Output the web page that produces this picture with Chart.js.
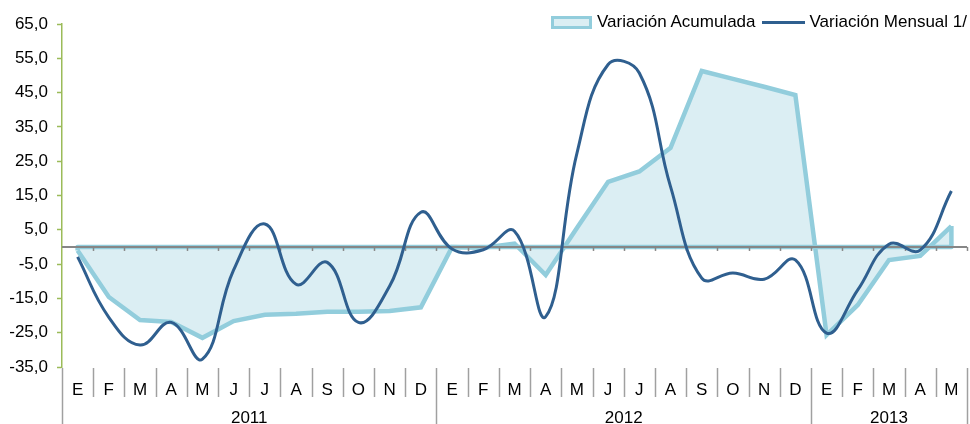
<!DOCTYPE html>
<html>
<head>
<meta charset="utf-8">
<script src="https://cdn.jsdelivr.net/npm/chart.js@4/dist/chart.umd.min.js"></script>
<style>
  html, body { margin: 0; padding: 0; background: #fff; }
  #wrap { position: relative; width: 970px; height: 424px; }
  #legend { position: absolute; top: 12px; right: 3px; display: flex; align-items: center;
            font-family: "Liberation Sans", Arial, sans-serif; font-size: 17px; color: #000; }
  .item { display: flex; align-items: center; margin-left: 6px; }
  .box { width: 35px; height: 7px; border: 3px solid #92cddc; background: #dbeef3; margin-right: 5px; }
  .ln { width: 43px; height: 3px; background: #2f5f8f; margin-right: 5px; }
</style>
</head>
<body>
<div id="wrap">
  <canvas id="c"></canvas>
  <div id="legend"></div>
</div>
<script>
const months = ['E','F','M','A','M','J','J','A','S','O','N','D',
                'E','F','M','A','M','J','J','A','S','O','N','D',
                'E','F','M','A','M'];
const years = ['2011','2012','2013'];
const yearCounts = [12, 12, 5];
const acumulada = [-1, -14.6, -21.3, -21.9, -26.5, -21.6, -19.8, -19.5, -18.9, -18.9, -18.7, -17.6,
                   0, -0.2, 1.0, -8.2, 5.5, 19.0, 22.0, 28.9, 51.3, 49.0, 46.7, 44.3,
                   -25.7, -16.9, -3.8, -2.6, 6.1];
const mensual = [-2.9, -20.5, -28.6, -22.0, -32.7, -6.7, 6.7, -10.9, -4.5, -22.0, -11.4, 10.1,
                 -0.6, -0.8, 4.6, -20.3, 27.3, 53.2, 50.7, 17.6, -9.1, -7.6, -9.4, -3.8,
                 -25.1, -12.5, 0.8, -0.9, 16.3];
const seriesNames = ['Variación Acumulada', 'Variación Mensual 1/'];
const yTicks = { min: -35, max: 65, step: 10 };

const FONT = '"Liberation Sans", Arial, sans-serif';

// HTML legend
const lg = document.getElementById('legend');
lg.innerHTML = '<div class="item"><span class="box"></span>' + seriesNames[0] + '</div>' +
               '<div class="item"><span class="ln"></span>' + seriesNames[1] + '</div>';

const decor = {
  id: 'decor',
  afterDatasetDraw(chart, args) {
    if (args.index !== 0) return;
    const ctx = chart.ctx, x = chart.scales.x, y = chart.scales.y, a = chart.chartArea;
    const y0 = y.getPixelForValue(0);
    const xf = x.getPixelForValue(0), xl = x.getPixelForValue(acumulada.length - 1);
    ctx.save();
    ctx.strokeStyle = '#92cddc'; ctx.lineWidth = 4.5; ctx.lineJoin = 'round';
    ctx.beginPath();
    ctx.moveTo(xl, y.getPixelForValue(acumulada[acumulada.length - 1]));
    ctx.lineTo(xl, y0); ctx.lineTo(xf, y0);
    ctx.lineTo(xf, y.getPixelForValue(acumulada[0]));
    ctx.stroke();
    ctx.strokeStyle = '#868686'; ctx.lineWidth = 2;
    ctx.beginPath(); ctx.moveTo(a.left, y0); ctx.lineTo(a.right, y0); ctx.stroke();
    ctx.lineWidth = 1.5;
    const w = (a.right - a.left) / months.length;
    for (let i = 1; i <= months.length; i++) {
      const px = Math.round(a.left + i * w) + 0.5;
      ctx.beginPath(); ctx.moveTo(px, y0); ctx.lineTo(px, y0 + 4); ctx.stroke();
    }
    ctx.restore();
  },
  afterDraw(chart) {
    const ctx = chart.ctx, a = chart.chartArea, H = chart.height;
    const w = (a.right - a.left) / months.length;
    ctx.save();
    ctx.strokeStyle = '#a0a0a0'; ctx.lineWidth = 1.5;
    const bounds = [0]; let acc = 0;
    yearCounts.forEach(c => { acc += c; bounds.push(acc); });
    for (let i = 0; i <= months.length; i++) {
      const px = Math.round(a.left + i * w) + 0.5;
      const long = bounds.includes(i);
      ctx.beginPath();
      ctx.moveTo(px, a.bottom + 1);
      ctx.lineTo(px, long ? H : a.bottom + 30);
      ctx.stroke();
    }
    ctx.fillStyle = '#000'; ctx.font = '17px ' + FONT;
    ctx.textAlign = 'center'; ctx.textBaseline = 'middle';
    for (let k = 0; k < years.length; k++) {
      const cx = a.left + (bounds[k] + bounds[k + 1]) / 2 * w;
      ctx.fillText(years[k], cx, a.bottom + 51);
    }
    ctx.restore();
  }
};

new Chart(document.getElementById('c'), {
  type: 'line',
  data: {
    labels: months,
    datasets: [
      { label: seriesNames[0], data: acumulada, borderColor: '#92cddc', backgroundColor: '#dbeef3',
        borderWidth: 4.5, fill: 'origin', tension: 0, pointRadius: 0, order: 2 },
      { label: seriesNames[1], data: mensual, borderColor: '#2f5f8f', backgroundColor: '#2f5f8f',
        borderWidth: 3, fill: false, tension: 0.42, pointRadius: 0, order: 1 }
    ]
  },
  options: {
    responsive: true, maintainAspectRatio: false, animation: false,
    layout: { padding: { top: 24, right: 3, left: 0, bottom: 0 } },
    plugins: { legend: { display: false }, tooltip: { enabled: false } },
    scales: {
      x: {
        offset: true,
        grid: { display: false, offset: true },
        border: { display: false },
        ticks: { color: '#000', font: { family: FONT, size: 17 }, padding: 5, maxRotation: 0, autoSkip: false },
        afterFit(s) { s.height = 57; }
      },
      y: {
        min: yTicks.min, max: yTicks.max,
        border: { display: true, color: '#9bbb59', width: 1.5 },
        grid: { drawOnChartArea: false, drawTicks: true, tickLength: 5, tickColor: '#9bbb59', tickWidth: 1.5 },
        ticks: { stepSize: yTicks.step, color: '#000', padding: 9, font: { family: FONT, size: 17 },
                 callback: v => v.toFixed(1).replace('.', ',') },
        afterFit(s) { s.width = 62; }
      }
    }
  },
  plugins: [decor]
});
</script>
</body>
</html>
